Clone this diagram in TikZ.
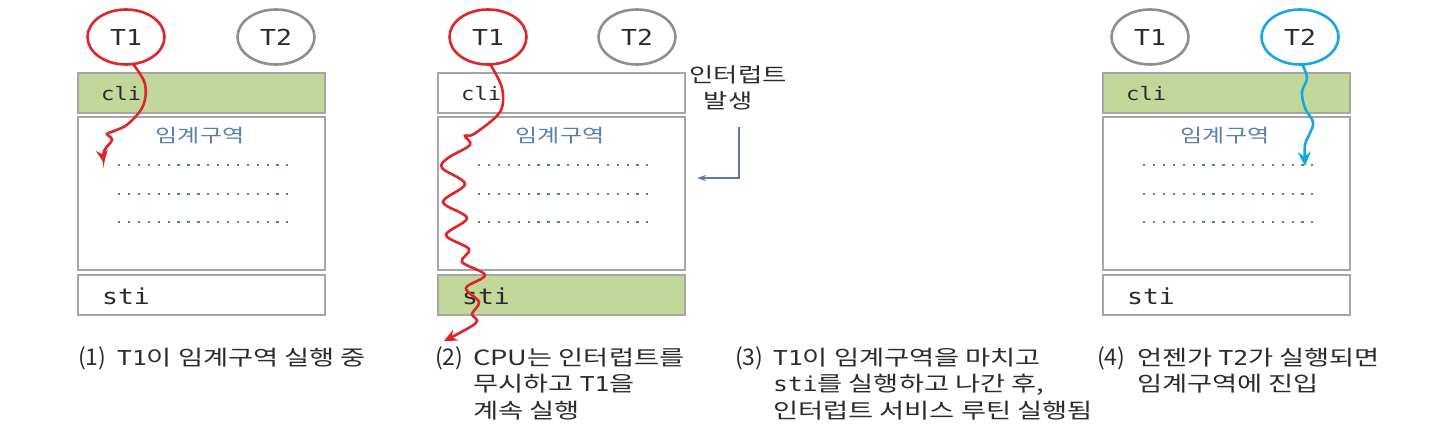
\documentclass[tikz,border=0pt]{standalone}
\usepackage{fontspec}
\setmainfont{Noto Sans CJK KR}[FakeStretch=1.3]
\newfontfamily\plainko{Noto Sans CJK KR}
\newfontfamily\mono{DejaVu Sans Mono}[FakeStretch=1.2]
\usetikzlibrary{arrows.meta,shapes.geometric}
\definecolor{boxgreen}{HTML}{C4D79B}
\definecolor{boxline}{HTML}{A6A6A6}
\definecolor{thr}{HTML}{E0242B}
\definecolor{thb}{HTML}{17A8E2}
\definecolor{idle}{HTML}{8F8F8F}
\definecolor{crit}{HTML}{5A7FAA}
\definecolor{txt}{HTML}{2B2B2B}
\definecolor{intc}{HTML}{5B7AA6}
\tikzset{
  box/.style={draw=boxline, line width=1.8pt, minimum width=247pt, inner sep=0pt},
  thread/.style={ellipse, draw, line width=2.6pt, minimum width=77pt, minimum height=55pt, inner sep=0pt, font=\mono\fontsize{22}{22}\selectfont, text=txt},
  code/.style={anchor=west, inner sep=0pt, text=txt},
  dots/.style={crit, line width=2.3pt, dash pattern=on 2.3pt off 7.6pt},
  captext/.style={anchor=base west, inner sep=0pt, text=txt, font=\fontsize{21}{21}\selectfont},
  capnum/.style={anchor=base west, inner sep=0pt, text=txt, font=\plainko\fontsize{23}{23}\selectfont},
  redpath/.style={thr, line width=2.6pt, -{Stealth[length=13pt,width=12pt]}},
  bluepath/.style={thb, line width=2.6pt, -{Stealth[length=14pt,width=13pt]}},
}
\newcommand{\cm}[1]{{\mono\fontsize{20.5}{20.5}\selectfont #1}}
\newcommand{\mkpanel}[4]{%
  \begin{scope}[xshift=#2]
    \node[box, fill=#3, minimum height=40pt] (#1cli) at (201.5,93) {};
    \node[box, minimum height=153pt] (#1crit) at (201.5,193.5) {};
    \node[box, fill=#4, minimum height=40pt] (#1sti) at (201.5,295) {};
    \node[code, font=\mono\fontsize{18.5}{18.5}\selectfont] (#1clit) at (101,94) {cli};
    \node[code, font=\mono\fontsize{22}{22}\selectfont] (#1stit) at (102,296) {sti};
    \node[inner sep=0pt, text=crit, font=\fontsize{18.5}{18.5}\selectfont] (#1cname) at (200,136) {임계구역};
    \coordinate (#1d1a) at (118,165); \coordinate (#1d1b) at (288,165);
    \coordinate (#1d2a) at (118,194); \coordinate (#1d2b) at (288,194);
    \coordinate (#1d3a) at (118,222); \coordinate (#1d3b) at (288,222);
    \draw[dots] (#1d1a) -- (#1d1b);
    \draw[dots] (#1d2a) -- (#1d2b);
    \draw[dots] (#1d3a) -- (#1d3b);
  \end{scope}}
\begin{document}
\begin{tikzpicture}[x=1pt,y=-1pt]
\useasboundingbox[fill=white] (0,0) rectangle (1440,431);

% panel 1
\mkpanel{a}{0pt}{boxgreen}{white}
\node[thread, draw=thr] (aT1) at (126,37) {T1};
\node[thread, draw=idle] (aT2) at (276,37) {T2};
\draw[redpath] plot[smooth, tension=0.6] coordinates {(133,64) (145,84) (143,106) (128,124) (114,131) (107,134) (112,140) (104,151) (104,163)};

% panel 2
\mkpanel{b}{360pt}{white}{boxgreen}
\node[thread, draw=thr] (bT1) at (488,37) {T1};
\node[thread, draw=idle] (bT2) at (637,37) {T2};
\draw[redpath] plot[smooth, tension=0.55] coordinates {(490,64) (502,88) (500,112) (474,134) (465,136) (470,145) (448,158) (442,168) (465,184) (443,202) (467,218) (446,235) (469,249) (462,262) (485,275) (466,288) (479,302) (472,314) (476,323) (444,341)};
\node[inner sep=0pt, text=txt, font=\fontsize{20.3}{20.3}\selectfont] (int1) at (738,75) {인터럽트};
\node[inner sep=0pt, text=txt, font=\fontsize{20.3}{20.3}\selectfont] (int2) at (728,101) {발생};
\coordinate (intTop) at (739,127);
\coordinate (intEnd) at (697,178);
\draw[intc, line width=1.2pt, -{Stealth[length=9pt,width=6pt]}] (intTop) |- (intEnd);

% panel 4
\mkpanel{c}{1025pt}{boxgreen}{white}
\node[thread, draw=idle] (cT1) at (1150,37) {T1};
\node[thread, draw=thb] (cT2) at (1300,37) {T2};
\draw[bluepath] plot[smooth, tension=0.6] coordinates {(1302,64) (1307,78) (1302,92) (1305,108) (1313,122) (1310,133) (1305,145) (1305,166)};

% captions
\node[capnum] (c1n) at (78,365) {(1)};
\node[captext] (c1a) at (117,365) {\cm{T1}이 임계구역 실행 중};

\node[capnum] (c2n) at (435,365) {(2)};
\node[captext] (c2a) at (473,365) {CPU는 인터럽트를};
\node[captext] (c2b) at (473,391) {무시하고 \cm{T1}을};
\node[captext] (c2c) at (473,418) {계속 실행};

\node[capnum] (c3n) at (735,365) {(3)};
\node[captext] (c3a) at (773,365) {\cm{T1}이 임계구역을 마치고};
\node[captext] (c3b) at (773,391) {\cm{sti}를 실행하고 나간 후,};
\node[captext] (c3c) at (773,418) {인터럽트 서비스 루틴 실행됨};

\node[capnum] (c4n) at (1097,365) {(4)};
\node[captext] (c4a) at (1137,365) {언젠가 \cm{T2}가 실행되면};
\node[captext] (c4b) at (1137,391) {임계구역에 진입};
\end{tikzpicture}
\end{document}
